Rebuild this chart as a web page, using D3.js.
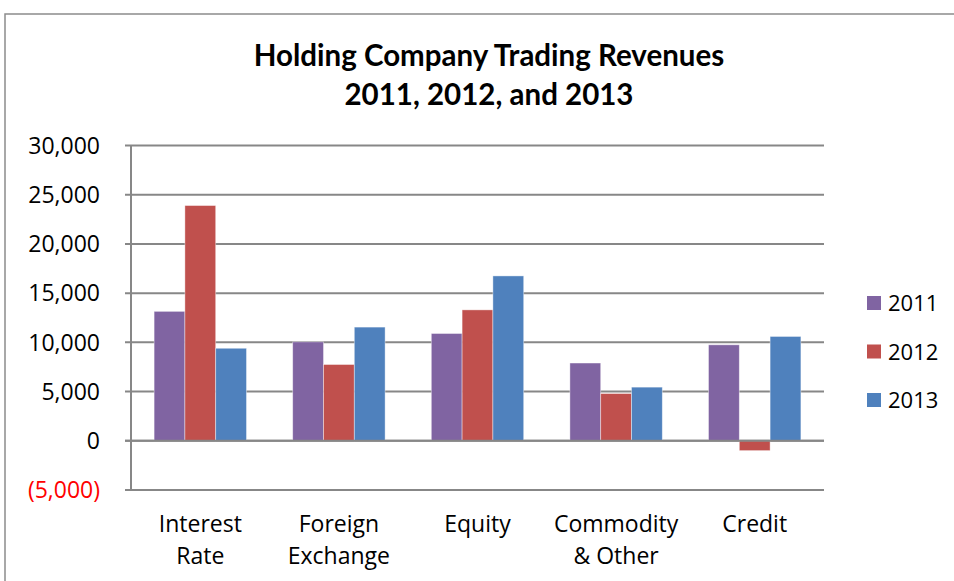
<!DOCTYPE html>
<html>
<head>
<meta charset="utf-8">
<script src="https://cdn.jsdelivr.net/npm/d3@7"></script>
<style>
  body { margin: 0; background: #fff; }
  svg { display: block; font-family: "Open Sans", sans-serif; }
</style>
</head>
<body>
<svg width="954" height="581"></svg>
<script>
const categories = [['Interest', 'Rate'], ['Foreign', 'Exchange'], ['Equity'], ['Commodity', '& Other'], ['Credit']];
const years = ['2011', '2012', '2013'];
const values2011 = [13150, 10050, 10900, 7900, 9750];
const values2012 = [23900, 7750, 13300, 4800, -1000];
const values2013 = [9400, 11550, 16750, 5450, 10600];
const tickValues = [-5000, 0, 5000, 10000, 15000, 20000, 25000, 30000];
const colors = ['#8064A2', '#C0504D', '#4F81BD'];

const series = [values2011, values2012, values2013];
const svg = d3.select('svg');

// chart frame
svg.append('rect')
  .attr('x', 5).attr('y', 14)
  .attr('width', 960).attr('height', 600)
  .attr('fill', 'none').attr('stroke', '#8c8c8c').attr('stroke-width', 1.5);

// title
const title = svg.append('text')
  .attr('text-anchor', 'middle')
  .attr('font-family', 'Lato, sans-serif')
  .attr('font-weight', 'bold')
  .attr('font-size', 29.5)
  .attr('fill', '#000');
title.append('tspan').attr('x', 489).attr('y', 66).text('Holding Company Trading Revenues');
title.append('tspan').attr('x', 489).attr('y', 105).text('2011, 2012, and 2013');

const left = 131, right = 824;
const x = d3.scaleBand().domain(d3.range(categories.length)).range([left, right]);
const y = d3.scaleLinear().domain([-5000, 30000]).range([490, 145.5]);
const bw = x.bandwidth() / 4.5;

// gridlines
svg.append('g')
  .selectAll('line')
  .data(tickValues)
  .join('line')
  .attr('x1', left - 6).attr('x2', right)
  .attr('y1', d => y(d)).attr('y2', d => y(d))
  .attr('stroke', '#878787').attr('stroke-width', 2);

// bars
series.forEach((vals, s) => {
  svg.append('g')
    .selectAll('rect')
    .data(vals)
    .join('rect')
    .attr('x', (d, i) => x(i) + x.bandwidth() / 2 - 1.5 * bw + s * bw)
    .attr('y', d => y(Math.max(0, d)))
    .attr('width', bw)
    .attr('height', d => Math.abs(y(d) - y(0)))
    .attr('fill', colors[s])
    .attr('stroke', '#fff').attr('stroke-opacity', 0.5).attr('stroke-width', 0.8);
});

// zero line on top of bars
svg.append('line')
  .attr('x1', left - 6).attr('x2', right)
  .attr('y1', y(0)).attr('y2', y(0))
  .attr('stroke', '#878787').attr('stroke-width', 2);

// y axis line
svg.append('line')
  .attr('x1', left).attr('x2', left)
  .attr('y1', y(30000)).attr('y2', y(-5000))
  .attr('stroke', '#878787').attr('stroke-width', 2);

// y tick labels
svg.append('g')
  .selectAll('text')
  .data(tickValues)
  .join('text')
  .attr('x', 100)
  .attr('y', d => y(d) + 8.3)
  .attr('text-anchor', 'end')
  .attr('font-size', 23)
  .attr('fill', d => d < 0 ? '#ff0000' : '#000')
  .text(d => d < 0 ? '(' + d3.format(',')(-d) + ')' : d3.format(',')(d));

// category labels
const cat = svg.append('g')
  .selectAll('text')
  .data(categories)
  .join('text')
  .attr('text-anchor', 'middle')
  .attr('font-size', 23)
  .attr('fill', '#000');
cat.selectAll('tspan')
  .data((d, i) => d.map(t => ({ t, i })))
  .join('tspan')
  .attr('x', d => x(d.i) + x.bandwidth() / 2)
  .attr('y', (d, j) => 532 + j * 32)
  .text(d => d.t);

// legend
const legend = svg.append('g')
  .selectAll('g')
  .data(years)
  .join('g')
  .attr('transform', (d, i) => `translate(867, ${303 + i * 48.5})`);
legend.append('rect')
  .attr('x', 0).attr('y', -7)
  .attr('width', 14).attr('height', 14)
  .attr('fill', (d, i) => colors[i]);
legend.append('text')
  .attr('x', 21).attr('y', 8)
  .attr('font-size', 22)
  .text(d => d);
</script>
</body>
</html>
